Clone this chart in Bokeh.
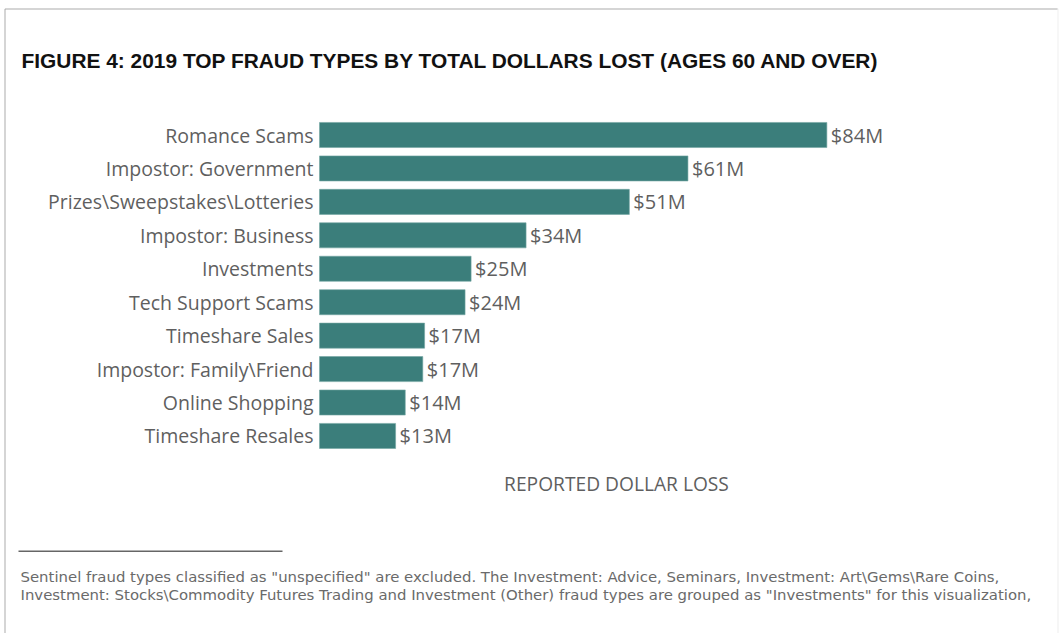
from bokeh.plotting import figure
from bokeh.models import ColumnDataSource, Range1d, Label, BoxAnnotation
from bokeh.core.properties import value
from bokeh.embed import file_html
from bokeh.resources import INLINE

# ---- data ----
categories = ["Romance Scams", "Impostor: Government", "Prizes\\Sweepstakes\\Lotteries",
              "Impostor: Business", "Investments", "Tech Support Scams", "Timeshare Sales",
              "Impostor: Family\\Friend", "Online Shopping", "Timeshare Resales"]
losses_musd = [84.0, 61.0, 51.3, 34.2, 25.1, 24.1, 17.4, 17.1, 14.2, 12.6]
value_labels = ["$84M", "$61M", "$51M", "$34M", "$25M", "$24M", "$17M", "$17M", "$14M", "$13M"]

title_text = "FIGURE 4: 2019 TOP FRAUD TYPES BY TOTAL DOLLARS LOST (AGES 60 AND OVER)"
x_label = "REPORTED DOLLAR LOSS"
foot1 = ('Sentinel fraud types classified as "unspecified" are excluded. The Investment: Advice, '
         'Seminars, Investment: Art\\Gems\\Rare Coins,')
foot2 = ('Investment: Stocks\\Commodity Futures Trading and Investment (Other) fraud types are '
         'grouped as "Investments" for this visualization,')

# ---- layout (pixels) ----
W, H = 1059, 633
X0, PXM = 319.0, 6.04          # zero of value axis, px per $M
Y0, PITCH = 134.5, 33.44       # centre of first bar, px between bars

rank = list(range(len(categories)))
src = ColumnDataSource(dict(cat=categories, val=losses_musd, lab=value_labels, rank=rank))

p = figure(width=W, height=H, output_backend="svg", toolbar_location=None,
           x_range=Range1d(0, W), y_range=Range1d(H, 0),
           x_axis_location=None, y_axis_location=None, min_border=0)
p.extra_x_ranges = {"val": Range1d(-X0 / PXM, (W - X0) / PXM)}
p.extra_y_ranges = {"cat": Range1d((H - Y0) / PITCH, -Y0 / PITCH)}
p.outline_line_color = None
p.background_fill_color = "white"
p.border_fill_color = "white"
p.xgrid.visible = False
p.ygrid.visible = False

TEXT = "#5f5f5f"
FONT = "Open Sans"

p.hbar(y="rank", right="val", left=0, height=0.75, source=src,
       x_range_name="val", y_range_name="cat",
       fill_color="#3b7e7b", line_color="#73a6a3", line_width=0.6)
# category labels
p.text(x=0, y="rank", text="cat", source=src, x_range_name="val", y_range_name="cat",
       x_offset=-6, text_baseline="middle", text_align="right",
       text_font=value(FONT), text_font_size="19.5px", text_color=TEXT)
# value labels
p.text(x="val", y="rank", text="lab", source=src, x_range_name="val", y_range_name="cat",
       x_offset=4, text_baseline="middle", text_align="left",
       text_font=value(FONT), text_font_size="20px", text_color=TEXT)

# outer frame (left/top darker, right light)
p.add_layout(BoxAnnotation(left=4.5, right=1057.5, top=8.5, bottom=H + 20,
                           fill_alpha=0, line_color="#d9d9d9", line_width=1.5))
p.add_layout(BoxAnnotation(left=4.5, right=1057, top=8.5, bottom=8.5,
                           fill_alpha=0, line_color="#888888", line_width=2))
p.add_layout(BoxAnnotation(left=4.5, right=4.5, top=8.5, bottom=H + 20,
                           fill_alpha=0, line_color="#888888", line_width=2))

p.add_layout(Label(x=21, y=60, text=title_text, text_baseline="middle",
                   text_font="Liberation Sans", text_font_style="bold",
                   text_font_size="20.9px", text_color="#111111"))

p.add_layout(Label(x=616, y=483, text=x_label, text_baseline="middle", text_align="center",
                   text_font=FONT, text_font_size="19.2px", text_color=TEXT))

# footnote rule
p.add_layout(BoxAnnotation(left=18, right=282, top=550, bottom=551.5,
                           fill_color="#666666", fill_alpha=1, line_color=None))

for txt, yy in ((foot1, 576), (foot2, 594)):
    p.add_layout(Label(x=20, y=yy, text=txt, text_baseline="middle",
                       text_font="DejaVu Sans", text_font_size="14.9px", text_color="#6a6a6a"))

open("out.html", "w").write(file_html(p, INLINE))
